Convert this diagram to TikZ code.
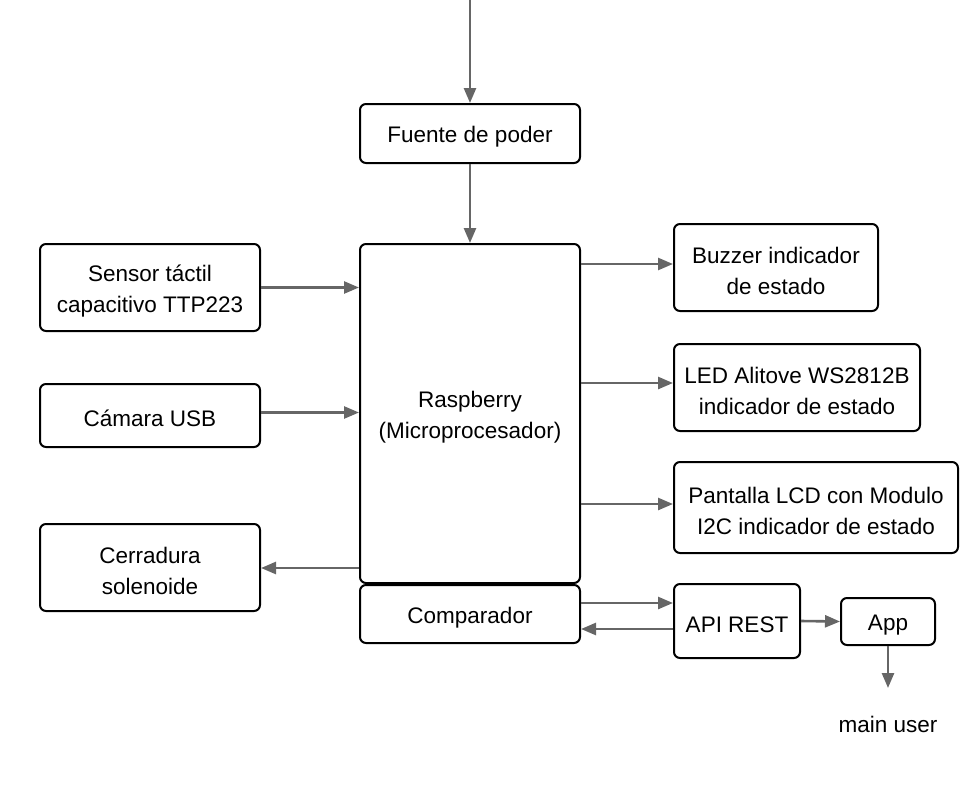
\documentclass[tikz,border=0pt]{standalone}
\usepackage{fontspec}
\setmainfont{Liberation Sans}
\usetikzlibrary{arrows.meta,calc}

\newcommand{\alza}{\rule{0pt}{23pt}}

\begin{document}
\begin{tikzpicture}[x=1pt,y=-1pt,>={Triangle[length=15pt,width=12pt]},
    bloque/.style={draw=black, line width=2pt, rounded corners=6pt, align=center,
      font=\fontsize{22.5}{31}\selectfont, inner sep=0pt},
    flecha/.style={->, draw=black!60, line width=2.6pt}]
  \useasboundingbox (0,0) rectangle (980,785);

  % fuente y raspberry
  \coordinate (entrada) at (470,0);
  \node[bloque, minimum width=220pt, minimum height=59pt] (fuente) at (470,133.5) {\alza Fuente de poder};
  \node[bloque, minimum width=220pt, minimum height=339pt] (rasp) at (470,413.5) {\alza Raspberry\\(Microprocesador)};
  \node[bloque, minimum width=220pt, minimum height=58pt] (comp) at (470,614) {\alza Comparador};

  % entradas y salidas a la izquierda
  \node[bloque, minimum width=220pt, minimum height=87pt] (sensor) at (150,287.5) {\alza Sensor táctil\\capacitivo TTP223};
  \node[bloque, minimum width=220pt, minimum height=63pt] (camara) at (150,415.5) {\alza Cámara USB};
  \node[bloque, minimum width=220pt, minimum height=87pt] (cerradura) at (150,567.5) {\alza Cerradura\\solenoide};

  % indicadores a la derecha
  \node[bloque, minimum width=204pt, minimum height=87pt] (buzzer) at (776,267.5) {\alza Buzzer indicador\\de estado};
  \node[bloque, minimum width=246pt, minimum height=87pt] (led) at (797,387.5) {\alza LED Alitove WS2812B\\indicador de estado};
  \node[bloque, minimum width=284pt, minimum height=91pt] (pantalla) at (816,507.5) {\alza Pantalla LCD con Modulo\\I2C indicador de estado};

  % api y app
  \node[bloque, minimum width=126pt, minimum height=74pt] (api) at (737,621) {\alza API REST};
  \node[bloque, minimum width=94pt, minimum height=47pt] (app) at (888,621.5) {\alza App};
  \node[font=\fontsize{22.5}{31}\selectfont] (usuario) at (888,724) {main user};
  \coordinate (llegada) at (888,688);

  % conexiones verticales
  \draw[flecha] (entrada) -- (fuente.north);
  \draw[flecha] (fuente.south) -- (rasp.north);

  % conexiones izquierda
  \draw[flecha] (sensor.east) -- (sensor.east -| rasp.west);
  \draw[flecha] ([yshift=3pt]camara.east) -- ([yshift=3pt]camara.east -| rasp.west);
  \draw[flecha] ([yshift=-0.5pt]cerradura.east -| rasp.west) -- ([yshift=-0.5pt]cerradura.east);

  % conexiones derecha
  \draw[flecha] ([yshift=3.5pt]buzzer.west -| rasp.east) -- ([yshift=3.5pt]buzzer.west);
  \draw[flecha] ([yshift=4.5pt]led.west -| rasp.east) -- ([yshift=4.5pt]led.west);
  \draw[flecha] ([yshift=3.5pt]pantalla.west -| rasp.east) -- ([yshift=3.5pt]pantalla.west);

  % comparador, api y app
  \draw[flecha] ([yshift=18pt]api.west -| comp.east) -- ([yshift=18pt]api.west);
  \draw[flecha] ([yshift=-8pt]api.west) -- ([yshift=-8pt]api.west -| comp.east);
  \draw[flecha] (api.east) -- (app.west);
  \draw[flecha] (app.south) -- (llegada);
\end{tikzpicture}
\end{document}
